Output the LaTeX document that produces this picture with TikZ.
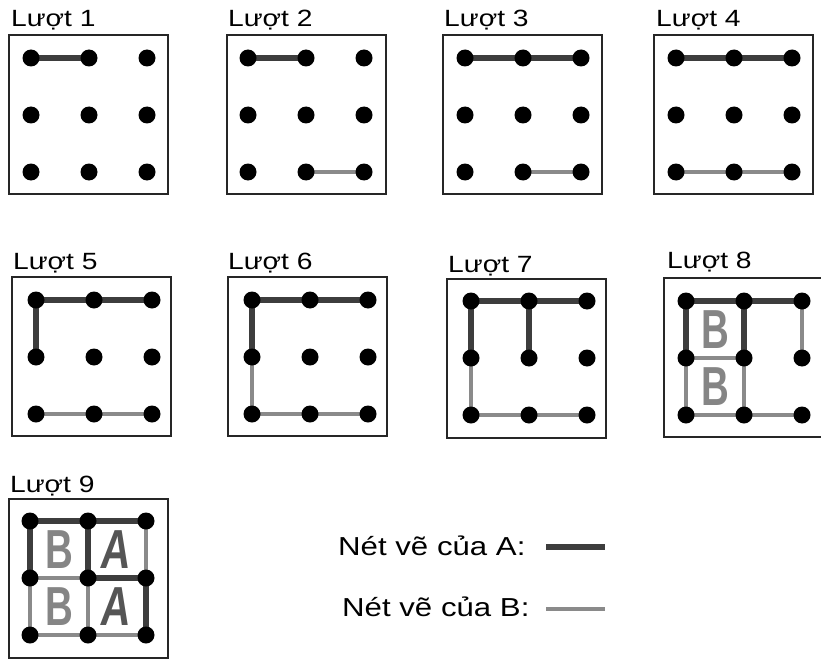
\documentclass[tikz,border=0pt]{standalone}
\usepackage{fontspec}
\setmainfont{Liberation Sans}
\newfontfamily\widefont[FakeStretch=1.2]{Liberation Sans}
\usetikzlibrary{backgrounds,calc}
\definecolor{acol}{HTML}{3D3D3D}
\definecolor{bcol}{HTML}{8A8A8A}
\definecolor{bletter}{HTML}{858585}
\definecolor{aletter}{HTML}{555555}
\tikzset{
  boxst/.style={draw=black!85, line width=1.3pt},
  dotst/.style={circle, fill=black, inner sep=0pt, minimum size=17pt},
  lbl/.style={anchor=base west, inner sep=0pt, font=\widefont\fontsize{23.5}{23.5}\selectfont},
  aline/.style={draw=acol, line width=6pt},
  bline/.style={draw=bcol, line width=3.5pt},
  bletterst/.style={text=bletter, inner sep=0pt, font=\bfseries\fontsize{55}{55}\selectfont, xscale=0.7},
  aletterst/.style={text=aletter, inner sep=0pt, font=\bfseries\fontsize{55}{55}\selectfont, xscale=0.75, xslant=0.15},
  legtext/.style={anchor=base west, inner sep=0pt, font=\widefont\fontsize{26}{26}\selectfont}
}
% #1 id, #2 box left, #3 box top, #4 dot x0, #5 dot y0, #6 label number, #7 label x, #8 label baseline
\newcommand\gridpanel[8]{%
  \draw[boxst] (#2,#3) rectangle ++(159,159);
  \node[lbl] (lbl#1) at (#7,#8) {Lượt #6};
  \foreach \i in {0,1,2}{\foreach \j in {0,1,2}{%
    \node[dotst] (#1-\i\j) at (#4+58*\i,#5+57*\j) {};}}%
}
\newcommand\Aedge[3]{\draw[aline] (#1-#2.center) -- (#1-#3.center);}
\newcommand\Bedge[3]{\draw[bline] (#1-#2.center) -- (#1-#3.center);}
\begin{document}
\begin{tikzpicture}[x=1pt,y=-1pt]
\useasboundingbox (0,0) rectangle (821,658);
\gridpanel{p1}{9}{35}{31}{58}{1}{11}{27}
\gridpanel{p2}{227}{35}{248}{58}{2}{228}{27}
\gridpanel{p3}{443}{35}{465}{58}{3}{444}{27}
\gridpanel{p4}{654}{35}{676}{58}{4}{656}{27}
\gridpanel{p5}{12}{277}{36}{300}{5}{13}{269}
\gridpanel{p6}{228}{277}{252}{300}{6}{228}{269}
\gridpanel{p7}{447}{279}{471}{301}{7}{448}{272}
\gridpanel{p8}{664}{278}{686}{301}{8}{667}{268}
\gridpanel{p9}{9}{499}{30}{521}{9}{10}{492}
\begin{pgfonlayer}{background}
  \fill[white] (0,0) rectangle (821,658);
  \Aedge{p1}{00}{10}
  \Aedge{p2}{00}{10} \Bedge{p2}{12}{22}
  \Aedge{p3}{00}{10} \Aedge{p3}{10}{20} \Bedge{p3}{12}{22}
  \Aedge{p4}{00}{10} \Aedge{p4}{10}{20} \Bedge{p4}{02}{12} \Bedge{p4}{12}{22}
  \Aedge{p5}{00}{10} \Aedge{p5}{10}{20} \Aedge{p5}{00}{01} \Bedge{p5}{02}{12} \Bedge{p5}{12}{22}
  \Aedge{p6}{00}{10} \Aedge{p6}{10}{20} \Aedge{p6}{00}{01} \Bedge{p6}{01}{02} \Bedge{p6}{02}{12} \Bedge{p6}{12}{22}
  \Aedge{p7}{00}{10} \Aedge{p7}{10}{20} \Aedge{p7}{00}{01} \Aedge{p7}{10}{11} \Bedge{p7}{01}{02} \Bedge{p7}{02}{12} \Bedge{p7}{12}{22}
  \Aedge{p8}{00}{10} \Aedge{p8}{10}{20} \Aedge{p8}{00}{01} \Aedge{p8}{10}{11}
  \Bedge{p8}{01}{02} \Bedge{p8}{02}{12} \Bedge{p8}{12}{22} \Bedge{p8}{20}{21} \Bedge{p8}{01}{11} \Bedge{p8}{11}{12}
  \Aedge{p9}{00}{10} \Aedge{p9}{10}{20} \Aedge{p9}{00}{01} \Aedge{p9}{10}{11} \Aedge{p9}{11}{21} \Aedge{p9}{21}{22}
  \Bedge{p9}{01}{02} \Bedge{p9}{02}{12} \Bedge{p9}{12}{22} \Bedge{p9}{20}{21} \Bedge{p9}{01}{11} \Bedge{p9}{11}{12}
\end{pgfonlayer}
% letters
\node[bletterst] (p8b1) at ($(p8-00)!0.5!(p8-11)$) {B};
\node[bletterst] (p8b2) at ($(p8-01)!0.5!(p8-12)$) {B};
\node[bletterst] (p9b1) at ($(p9-00)!0.5!(p9-11)$) {B};
\node[bletterst] (p9b2) at ($(p9-01)!0.5!(p9-12)$) {B};
\node[aletterst] (p9a1) at ($(p9-10)!0.5!(p9-21)$) {A};
\node[aletterst] (p9a2) at ($(p9-11)!0.5!(p9-22)$) {A};
% legend
\node[legtext] (legA) at (338,555) {Nét vẽ của A:};
\node[legtext] (legB) at (342,616) {Nét vẽ của B:};
\coordinate (la1) at (546,547);
\coordinate (la2) at (605,547);
\coordinate (lb1) at (546,609);
\coordinate (lb2) at (605,609);
\draw[aline] (la1) -- (la2);
\draw[bline] (lb1) -- (lb2);
\end{tikzpicture}
\end{document}
